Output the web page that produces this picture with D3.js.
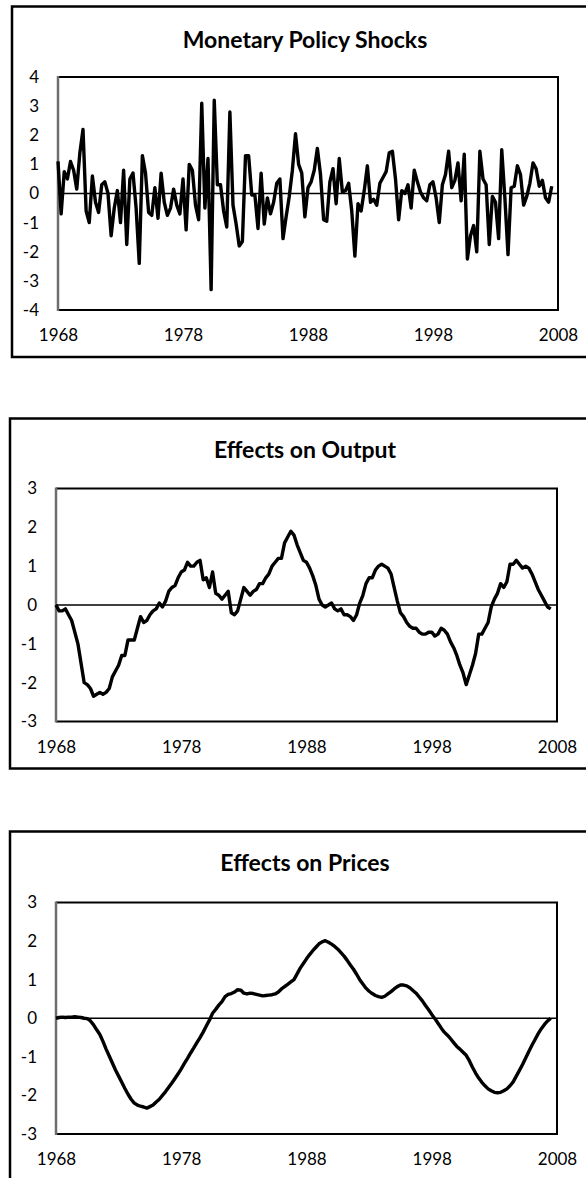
<!DOCTYPE html>
<html lang="en">
<head>
    <meta charset="UTF-8">
    <title>Monetary Policy Shocks</title>
    <script src="https://cdnjs.cloudflare.com/ajax/libs/d3/7.9.0/d3.min.js"></script>
    <style>
        body { margin: 0; background: white; }
        svg { display: block; }
        .tick text { font-family: Lato, "Open Sans", sans-serif; font-size: 17px; fill: #000; }
        .title { font-family: Lato, "Open Sans", sans-serif; font-weight: bold; font-size: 23px; fill: #000; }
    </style>
</head>
<body>
    <svg id="chart" width="586" height="1178"></svg>

    <script>
        // quarterly data, first quarter 1968
        const startYear = 1968;
        const yearTicks = [1968, 1978, 1988, 1998, 2008];

        const shocks = [
            1.1, -0.7, 0.75, 0.5, 1.1, 0.8, 0.15, 1.4, 2.2, -0.6,
            -1.0, 0.6, -0.3, -0.65, 0.3, 0.4, 0.0, -1.45, -0.5, 0.1,
            -1.0, 0.8, -1.75, 0.5, 0.7, -0.5, -2.4, 1.3, 0.7, -0.65,
            -0.75, 0.2, -0.85, 0.7, -0.3, -0.75, -0.5, 0.15, -0.4, -0.7,
            0.5, -1.25, 1.0, 0.8, -0.4, -0.9, 3.1, -0.5, 1.2, -3.3,
            3.2, 0.3, 0.3, -0.6, -1.15, 2.8, -0.4, -1.05, -1.8, -1.65,
            1.3, 1.3, -0.05, -0.05, -1.2, 0.7, -1.05, -0.15, -0.7, -0.3,
            0.35, 0.5, -1.55, -0.8, -0.1, 0.8, 2.05, 1.0, 0.7, -0.8,
            0.2, 0.4, 0.8, 1.55, 0.65, -0.9, -0.95, 0.4, 0.85, -0.35,
            1.2, 0.05, 0.1, 0.35, -0.6, -2.15, -0.35, -0.6, 0.1, 0.95,
            -0.3, -0.2, -0.4, 0.35, 0.55, 0.75, 1.4, 1.45, 0.5, -0.9,
            0.1, 0.0, 0.3, -0.5, 0.8, 0.4, 0.05, -0.15, -0.25, 0.3,
            0.4, -0.15, -1.0, 0.3, 0.65, 1.45, 0.2, 0.45, 1.05, -0.25,
            1.35, -2.25, -1.45, -1.1, -2.0, 1.45, 0.5, 0.3, -1.75, -0.1,
            -0.3, -1.55, 1.5, -0.15, -2.1, 0.2, 0.25, 0.95, 0.65, -0.4,
            -0.1, 0.35, 1.05, 0.85, 0.25, 0.45, -0.15, -0.3, 0.25
        ];

        const output = [
            0.0, -0.15, -0.15, -0.1, -0.25, -0.4, -0.7, -1.0, -1.5, -2.0,
            -2.05, -2.15, -2.35, -2.3, -2.25, -2.3, -2.25, -2.15, -1.85, -1.7,
            -1.55, -1.3, -1.3, -0.9, -0.9, -0.9, -0.6, -0.3, -0.45, -0.4,
            -0.25, -0.15, -0.1, 0.05, -0.05, 0.1, 0.35, 0.45, 0.5, 0.7,
            0.85, 0.9, 1.1, 1.0, 1.0, 1.1, 1.15, 0.65, 0.7, 0.45,
            0.85, 0.3, 0.25, 0.15, 0.25, 0.35, -0.2, -0.25, -0.15, 0.15,
            0.45, 0.35, 0.25, 0.35, 0.4, 0.55, 0.55, 0.7, 0.8, 1.0,
            1.1, 1.2, 1.2, 1.6, 1.75, 1.9, 1.8, 1.55, 1.35, 1.15,
            1.1, 0.95, 0.75, 0.5, 0.15, 0.0, -0.05, 0.0, 0.05, -0.1,
            -0.15, -0.1, -0.25, -0.25, -0.3, -0.4, -0.25, 0.05, 0.25, 0.55,
            0.7, 0.7, 0.9, 1.0, 1.05, 1.0, 0.95, 0.8, 0.45, 0.1,
            -0.2, -0.3, -0.45, -0.55, -0.6, -0.6, -0.7, -0.75, -0.75, -0.7,
            -0.7, -0.8, -0.75, -0.6, -0.65, -0.75, -0.95, -1.1, -1.3, -1.55,
            -1.75, -2.05, -1.8, -1.55, -1.25, -0.75, -0.75, -0.6, -0.45, -0.05,
            0.15, 0.3, 0.55, 0.45, 0.6, 1.05, 1.05, 1.15, 1.05, 0.95,
            1.0, 0.95, 0.8, 0.6, 0.4, 0.25, 0.1, -0.05, -0.1
        ];

        const prices = [
            0.0, 0.02, 0.03, 0.02, 0.03, 0.03, 0.04, 0.03, 0.02, 0.0,
            -0.01, -0.07, -0.17, -0.3, -0.42, -0.6, -0.8, -0.98, -1.16, -1.34,
            -1.5, -1.66, -1.82, -1.97, -2.1, -2.2, -2.25, -2.28, -2.3, -2.33,
            -2.29, -2.25, -2.17, -2.1, -2.0, -1.9, -1.79, -1.68, -1.56, -1.44,
            -1.31, -1.17, -1.04, -0.9, -0.77, -0.63, -0.5, -0.36, -0.2, -0.05,
            0.13, 0.23, 0.34, 0.43, 0.56, 0.62, 0.64, 0.68, 0.74, 0.73,
            0.65, 0.63, 0.65, 0.64, 0.62, 0.6, 0.58, 0.59, 0.6, 0.61,
            0.63, 0.68, 0.76, 0.82, 0.88, 0.94, 1.0, 1.15, 1.3, 1.42,
            1.54, 1.65, 1.75, 1.84, 1.93, 1.98, 2.01, 1.97, 1.92, 1.86,
            1.79, 1.7, 1.61, 1.5, 1.38, 1.27, 1.14, 1.0, 0.89, 0.78,
            0.7, 0.64, 0.59, 0.56, 0.54, 0.57, 0.63, 0.69, 0.76, 0.82,
            0.86, 0.86, 0.84, 0.79, 0.72, 0.65, 0.55, 0.45, 0.33, 0.22,
            0.1, -0.01, -0.13, -0.25, -0.36, -0.44, -0.53, -0.63, -0.73, -0.8,
            -0.88, -0.96, -1.1, -1.27, -1.42, -1.55, -1.66, -1.75, -1.83, -1.88,
            -1.92, -1.93, -1.92, -1.88, -1.83, -1.75, -1.65, -1.5, -1.35, -1.2,
            -1.03, -0.86, -0.7, -0.55, -0.4, -0.27, -0.16, -0.07, 0.0
        ];

        const panels = [
            { title: "Monetary Policy Shocks", values: shocks, yTicks: [-4, -3, -2, -1, 0, 1, 2, 3, 4],
              box: { x: 12, y: 6.5, bottom: 357 }, plot: { left: 58, right: 558, top: 77, bottom: 310 }, titleY: 42 },
            { title: "Effects on Output", values: output, yTicks: [-3, -2, -1, 0, 1, 2, 3],
              box: { x: 10, y: 418.5, bottom: 768.5 }, plot: { left: 56, right: 557, top: 488.5, bottom: 721.5 }, titleY: 452 },
            { title: "Effects on Prices", values: prices, yTicks: [-3, -2, -1, 0, 1, 2, 3],
              box: { x: 10, y: 831.5, bottom: 1200 }, plot: { left: 56, right: 557, top: 902.5, bottom: 1134 }, titleY: 865 }
        ];

        const svg = d3.select("#chart");

        function drawPanel(p) {
            const g = svg.append("g");

            // outer frame (right side runs off the picture)
            g.append("rect")
                .attr("x", p.box.x).attr("y", p.box.y)
                .attr("width", 600 - p.box.x).attr("height", p.box.bottom - p.box.y)
                .attr("fill", "white").attr("stroke", "#000").attr("stroke-width", 2.5);

            g.append("text")
                .attr("class", "title")
                .attr("x", 305).attr("y", p.titleY)
                .attr("text-anchor", "middle")
                .attr("dominant-baseline", "middle")
                .text(p.title);

            const x = d3.scaleLinear().domain([startYear, 2008]).range([p.plot.left, p.plot.right]);
            const y = d3.scaleLinear().domain(d3.extent(p.yTicks)).range([p.plot.bottom, p.plot.top]);

            // plot area border: black top/right/bottom, grey left
            g.append("path")
                .attr("d", `M${p.plot.left},${p.plot.top}H${p.plot.right}V${p.plot.bottom}H${p.plot.left}`)
                .attr("fill", "none").attr("stroke", "#000").attr("stroke-width", 2);
            g.append("line")
                .attr("x1", p.plot.left).attr("x2", p.plot.left)
                .attr("y1", p.plot.top - 1).attr("y2", p.plot.bottom + 1)
                .attr("stroke", "#6e6e6e").attr("stroke-width", 2.5);

            // axes, labels only (plain hyphen for negatives, like the original)
            const plain = d => String(d);
            g.append("g")
                .attr("transform", `translate(0,${p.plot.bottom})`)
                .call(d3.axisBottom(x).tickValues(yearTicks).tickFormat(plain).tickSize(0).tickPadding(19))
                .call(a => a.select(".domain").remove());
            g.append("g")
                .attr("transform", `translate(${p.plot.left},0)`)
                .call(d3.axisLeft(y).tickValues(p.yTicks).tickFormat(plain).tickSize(0).tickPadding(19))
                .call(a => a.select(".domain").remove());
            g.selectAll(".tick text").attr("font-family", null).attr("font-size", null);

            // zero line
            g.append("line")
                .attr("x1", p.plot.left).attr("x2", p.plot.right)
                .attr("y1", y(0)).attr("y2", y(0))
                .attr("stroke", "#000").attr("stroke-width", 1.6);

            const line = d3.line()
                .x((d, i) => x(startYear + i / 4))
                .y(d => y(d));

            g.append("path")
                .datum(p.values)
                .attr("d", line)
                .attr("fill", "none")
                .attr("stroke", "#000")
                .attr("stroke-width", 3.4)
                .attr("stroke-linejoin", "round");
        }

        panels.forEach(drawPanel);
    </script>
</body>
</html>
